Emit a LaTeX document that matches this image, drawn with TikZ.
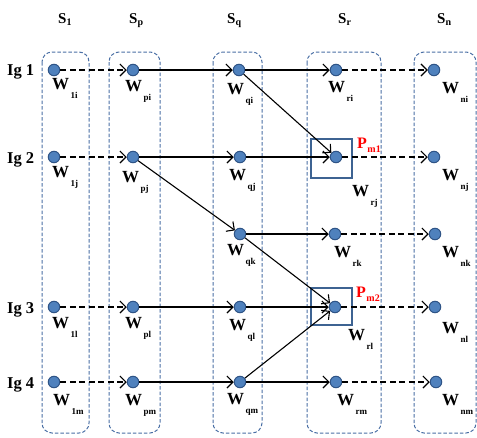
\documentclass[tikz,border=0pt]{standalone}
\usepackage{fontspec}
\setmainfont{Liberation Serif}
\usetikzlibrary{arrows.meta}
\definecolor{dotfill}{HTML}{4F81BD}
\definecolor{dotline}{HTML}{2F5486}
\definecolor{grpline}{HTML}{4A6FA5}
\definecolor{sqline}{HTML}{3D6392}
\newcommand{\wl}[1]{\fontsize{17}{17}\selectfont\bfseries W\kern1.5pt\raisebox{-9pt}{\fontsize{9}{9}\selectfont\bfseries #1}}
\newcommand{\pl}[1]{\color{red}\fontsize{16}{16}\selectfont\bfseries P\kern0.5pt\raisebox{-4pt}{\fontsize{10}{10}\selectfont\bfseries #1}}
\newcommand{\hl}[1]{\fontsize{15}{15}\selectfont\bfseries S\raisebox{-2.5pt}{\fontsize{10}{10}\selectfont\bfseries #1}}
\begin{document}
\begin{tikzpicture}[x=1pt,y=-1pt,
  wdot/.style={circle,fill=dotfill,draw=dotline,line width=1pt,minimum size=11.5pt,inner sep=0pt},
  grp/.style={draw=grpline,line width=1pt,dash pattern=on 3.5pt off 2pt,rounded corners=10pt},
  sq/.style={draw=sqline,line width=2.6pt},
  arr/.style={line width=1.1pt,-{Straight Barb[length=6pt,width=12pt,line width=1.1pt]}},
  darr/.style={arr,dash pattern=on 6pt off 3.5pt},
  lab/.style={anchor=base west,inner sep=0pt},
  hd/.style={anchor=base west,inner sep=0pt},
  ig/.style={anchor=base west,inner sep=0pt,font=\fontsize{16.5}{16.5}\selectfont\bfseries}]
\useasboundingbox (0,0) rectangle (477,437);
% group boxes
\draw[grp] (42,52) rectangle (89,433);
\draw[grp] (109,52) rectangle (160,433);
\draw[grp] (213,52) rectangle (262,433);
\draw[grp] (307,52) rectangle (381,433);
\draw[grp] (414,52) rectangle (476,433);
% P squares
\draw[sq] (311,139) rectangle (352,178);
\draw[sq] (311,288) rectangle (352,325);
% headers
\node[hd] (h1) at (58,23) {\hl{1}};
\node[hd] (hp) at (129,23) {\hl{p}};
\node[hd] (hq) at (227,23) {\hl{q}};
\node[hd] (hr) at (338,23) {\hl{r}};
\node[hd] (hn) at (437,23) {\hl{n}};
% Ig labels
\node[ig] (ig1) at (7,75) {Ig 1};
\node[ig] (ig2) at (7,163) {Ig 2};
\node[ig] (ig3) at (7,313) {Ig 3};
\node[ig] (ig4) at (7,388) {Ig 4};
% dots
\node[wdot] (1i) at (54,70) {};
\node[wdot] (pi) at (133,70) {};
\node[wdot] (qi) at (239,70) {};
\node[wdot] (ri) at (336,70) {};
\node[wdot] (ni) at (434,70) {};
\node[wdot] (1j) at (54,157) {};
\node[wdot] (pj) at (133,157) {};
\node[wdot] (qj) at (240,157) {};
\node[wdot] (rj) at (336,157) {};
\node[wdot] (nj) at (434,157) {};
\node[wdot] (qk) at (240,234) {};
\node[wdot] (rk) at (335,234) {};
\node[wdot] (nk) at (435,234) {};
\node[wdot] (1l) at (54,307) {};
\node[wdot] (pl) at (133,307) {};
\node[wdot] (ql) at (240,307) {};
\node[wdot] (rl) at (335,307) {};
\node[wdot] (nl) at (435,307) {};
\node[wdot] (1m) at (54,382) {};
\node[wdot] (pm) at (133,382) {};
\node[wdot] (qm) at (240,382) {};
\node[wdot] (rm) at (336,382) {};
\node[wdot] (nm) at (436,382) {};
% labels
\node[lab] (L1i) at (52,89) {\wl{1i}};
\node[lab] (L1j) at (52,177) {\wl{1j}};
\node[lab] (L1l) at (52,328) {\wl{1l}};
\node[lab] (L1m) at (53,405) {\wl{1m}};
\node[lab] (Lpi) at (125,91) {\wl{pi}};
\node[lab] (Lpj) at (122,182) {\wl{pj}};
\node[lab] (Lpl) at (125,328) {\wl{pl}};
\node[lab] (Lpm) at (125,405) {\wl{pm}};
\node[lab] (Lqi) at (227,94) {\wl{qi}};
\node[lab] (Lqj) at (229,180) {\wl{qj}};
\node[lab] (Lqk) at (227,255) {\wl{qk}};
\node[lab] (Lql) at (229,330) {\wl{ql}};
\node[lab] (Lqm) at (227,404) {\wl{qm}};
\node[lab] (Lri) at (328,92) {\wl{ri}};
\node[lab] (Lrj) at (352,196) {\wl{rj}};
\node[lab] (Lrk) at (334,257) {\wl{rk}};
\node[lab] (Lrl) at (348,340) {\wl{rl}};
\node[lab] (Lrm) at (337,405) {\wl{rm}};
\node[lab] (Lni) at (442,93) {\wl{ni}};
\node[lab] (Lnj) at (442,180) {\wl{nj}};
\node[lab] (Lnk) at (442,257) {\wl{nk}};
\node[lab] (Lnl) at (442,333) {\wl{nl}};
\node[lab] (Lnm) at (442,405) {\wl{nm}};
\node[lab] (Pm1) at (357,148) {\pl{m1}};
\node[lab] (Pm2) at (356,297) {\pl{m2}};
% connectors
\draw[darr] (1i) -- (pi);
\draw[arr] (pi) -- (qi);
\draw[arr] (qi) -- (ri);
\draw[darr] (ri) -- (ni);
\draw[arr] (qi) -- (rj);
\draw[darr] (1j) -- (pj);
\draw[arr] (pj) -- (qj);
\draw[arr] (pj) -- (qk);
\draw[arr] (qj) -- (rj);
\draw[darr] (rj) -- (nj);
\draw[arr] (qk) -- (rk);
\draw[arr] (qk) -- (rl);
\draw[darr] (rk) -- (nk);
\draw[darr] (1l) -- (pl);
\draw[arr] (pl) -- (ql);
\draw[arr] (ql) -- (rl);
\draw[darr] (rl) -- (nl);
\draw[darr] (1m) -- (pm);
\draw[arr] (pm) -- (qm);
\draw[arr] (qm) -- (rl);
\draw[arr] (qm) -- (rm);
\draw[darr] (rm) -- (nm);
\end{tikzpicture}
\end{document}
